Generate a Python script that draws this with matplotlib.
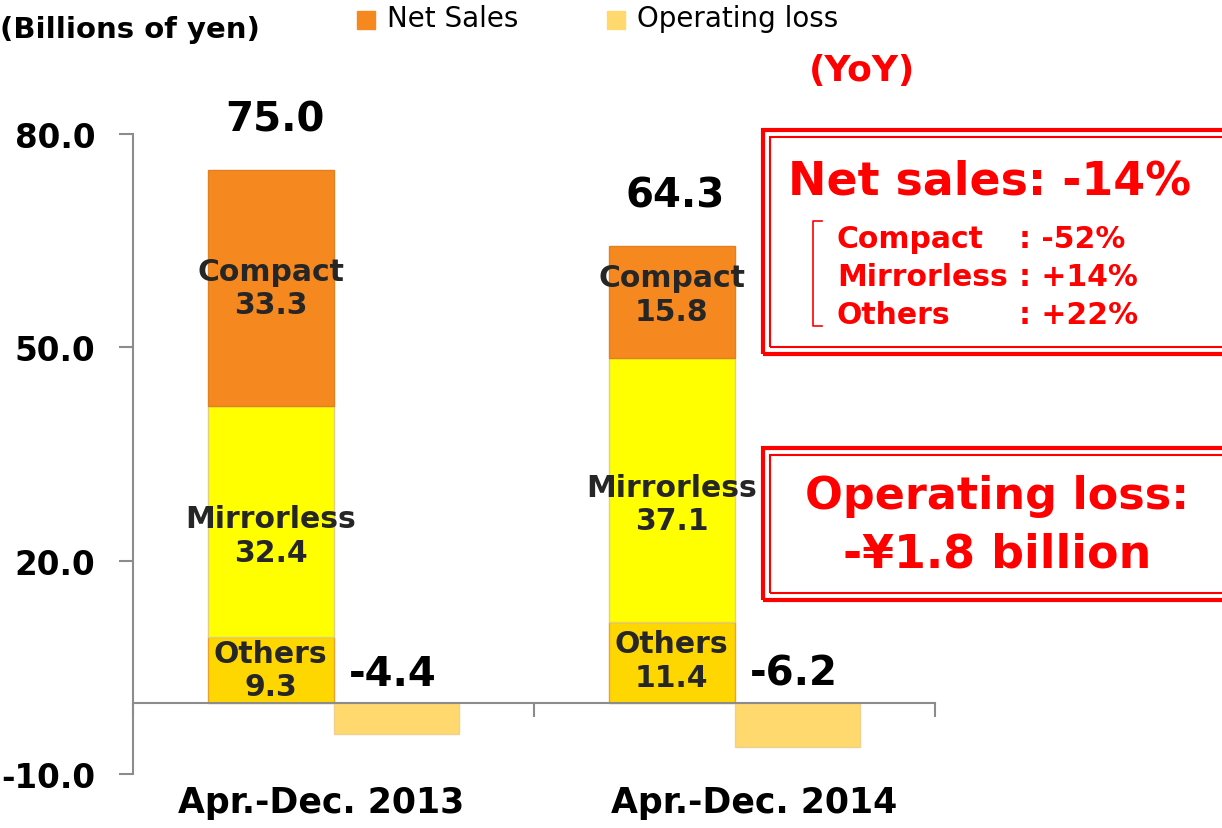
import numpy as np
import matplotlib
matplotlib.use("Agg")
import matplotlib.pyplot as plt
from matplotlib.patches import Rectangle
from matplotlib.lines import Line2D

# --- Данные ---
periods = ["Apr.-Dec. 2013", "Apr.-Dec. 2014"]
segments = ["Others", "Mirrorless", "Compact"]
others = [9.3, 11.4]
mirrorless = [32.4, 37.1]
compact = [33.3, 15.8]
net_sales = [75.0, 64.3]
op_loss = [-4.4, -6.2]
yticks = [-10.0, 20.0, 50.0, 80.0]

seg_colors = {"Others": "#FFD700", "Mirrorless": "#FFFF00", "Compact": "#F5891F"}
seg_edges = {"Others": "#E8A030", "Mirrorless": "#E0D080", "Compact": "#E08020"}
loss_color = "#FFD86E"
red = "#FF0000"
gray = "#8C8C8C"

plt.rcParams['font.family'] = ['DejaVu Sans']

fig = plt.figure(figsize=(12.22, 8.29), dpi=100)
ax = fig.add_axes([133 / 1222, 1 - 775 / 829, (935 - 133) / 1222, (775 - 135) / 829])

x = np.arange(len(periods))
w = 0.314
xs = x + 0.5 - w / 2
xl = x + 0.5 + w / 2

# --- Стопки продаж ---
bottom = np.zeros(len(periods))
seg_vals = {"Others": others, "Mirrorless": mirrorless, "Compact": compact}
label_shift = {"Others": [0, 0.3], "Mirrorless": [-2.0, -2.0], "Compact": [0, 1.0]}
for name in segments:
    vals = np.array(seg_vals[name])
    ax.bar(xs, vals, w, bottom=bottom, color=seg_colors[name],
           edgecolor=seg_edges[name], linewidth=1, zorder=2)
    for i, v in enumerate(vals):
        ax.text(xs[i], bottom[i] + v / 2 + label_shift[name][i], f"{name}\n{v:.1f}",
                ha="center", va="center", fontsize=21.5, fontweight="bold",
                color="#262626", linespacing=1.2, zorder=4)
    bottom += vals

for i, t in enumerate(net_sales):
    ax.annotate(f"{t:.1f}", (xs[i] + 0.01, t), xytext=(0, 36), textcoords="offset points",
                ha="center", va="center", fontsize=29, fontweight="bold", color="black")

# --- Операционный убыток ---
ax.bar(xl, op_loss, w, color=loss_color, edgecolor="#F0D090", linewidth=1, zorder=2)
for i, v in enumerate(op_loss):
    ax.annotate(f"{v:.1f}", (xl[i] - 0.01, 0), xytext=(0, 21), textcoords="offset points",
                ha="center", va="center", fontsize=29, fontweight="bold", color="black")

# --- Оси ---
ax.set_xlim(0, 2)
ax.set_ylim(-10, 80)
ax.set_yticks(yticks)
ax.set_yticklabels([f"{v:.1f}" for v in yticks], fontsize=23.5, fontweight="bold")
ax.set_xticks([0, 1, 2])
ax.set_xticklabels([])
for s in ["top", "right"]:
    ax.spines[s].set_visible(False)
ax.spines["bottom"].set_position(("data", 0))
ax.spines["bottom"].set_color(gray)
ax.spines["left"].set_color(gray)
ax.spines["bottom"].set_linewidth(1.5)
ax.spines["left"].set_linewidth(1.5)
ax.tick_params(axis="y", direction="out", length=10, width=1.5, color=gray, pad=17)
ax.tick_params(axis="x", direction="out", length=10, width=1.5, color=gray)
ax.patch.set_alpha(0)

for xc, lab in zip([0.47, 1.55], periods):
    ax.text(xc, -0.044, lab, transform=ax.get_xaxis_transform(), ha="center", va="center",
            fontsize=25, fontweight="bold")

# --- Подписи сверху ---
fig.text(0.0, 1 - 30 / 829, "(Billions of yen)", ha="left", va="center",
         fontsize=21, fontweight="bold")
fig.patches.append(Rectangle((357 / 1222, 1 - 30 / 829), 18 / 1222, 18 / 829,
                             transform=fig.transFigure, color="#F5891F", figure=fig))
fig.text(387 / 1222, 1 - 19 / 829, "Net Sales", ha="left", va="center", fontsize=20)
fig.patches.append(Rectangle((607 / 1222, 1 - 30 / 829), 18 / 1222, 18 / 829,
                             transform=fig.transFigure, color=loss_color, figure=fig))
fig.text(637 / 1222, 1 - 19 / 829, "Operating loss", ha="left", va="center", fontsize=20)
fig.text(862 / 1222, 1 - 71 / 829, "(YoY)", ha="center", va="center",
         fontsize=26, fontweight="bold", color=red)


# --- Рамки с комментариями ---
def double_box(x0, y0, x1, y1):
    for off, lw in [(0, 3.0), (7, 1.5)]:
        fig.patches.append(Rectangle(((x0 + off) / 1222, 1 - (y1 - off) / 829),
                                     (x1 - x0) / 1222, (y1 - y0 - 2 * off) / 829,
                                     transform=fig.transFigure, fill=False,
                                     edgecolor=red, linewidth=lw, figure=fig))


double_box(763, 131, 1240, 355)
double_box(763, 449, 1240, 601)

fig.text(990 / 1222, 1 - 182 / 829, "Net sales: -14%", ha="center", va="center",
         fontsize=33, fontweight="bold", color=red)
sub_names = ["Compact", "Mirrorless", "Others"]
sub_vals = ["-52%", "+14%", "+22%"]
for k, (n, v) in enumerate(zip(sub_names, sub_vals)):
    yy = 1 - (240 + 38 * k) / 829
    fig.text(837 / 1222, yy, n, ha="left", va="center", fontsize=21.5,
             fontweight="bold", color=red)
    fig.text(1019 / 1222, yy, ": " + v, ha="left", va="center", fontsize=21.5,
             fontweight="bold", color=red)
fig.lines.append(Line2D([822 / 1222, 813 / 1222, 813 / 1222, 822 / 1222],
                        [1 - 222 / 829, 1 - 222 / 829, 1 - 327 / 829, 1 - 327 / 829],
                        transform=fig.transFigure, color=red, linewidth=1.2, figure=fig))

fig.text(997 / 1222, 1 - 497 / 829, "Operating loss:", ha="center", va="center",
         fontsize=32, fontweight="bold", color=red)
fig.text(997 / 1222, 1 - 555 / 829, "-¥1.8 billion", ha="center", va="center",
         fontsize=33, fontweight="bold", color=red)

fig.savefig("out.png", dpi=100)
